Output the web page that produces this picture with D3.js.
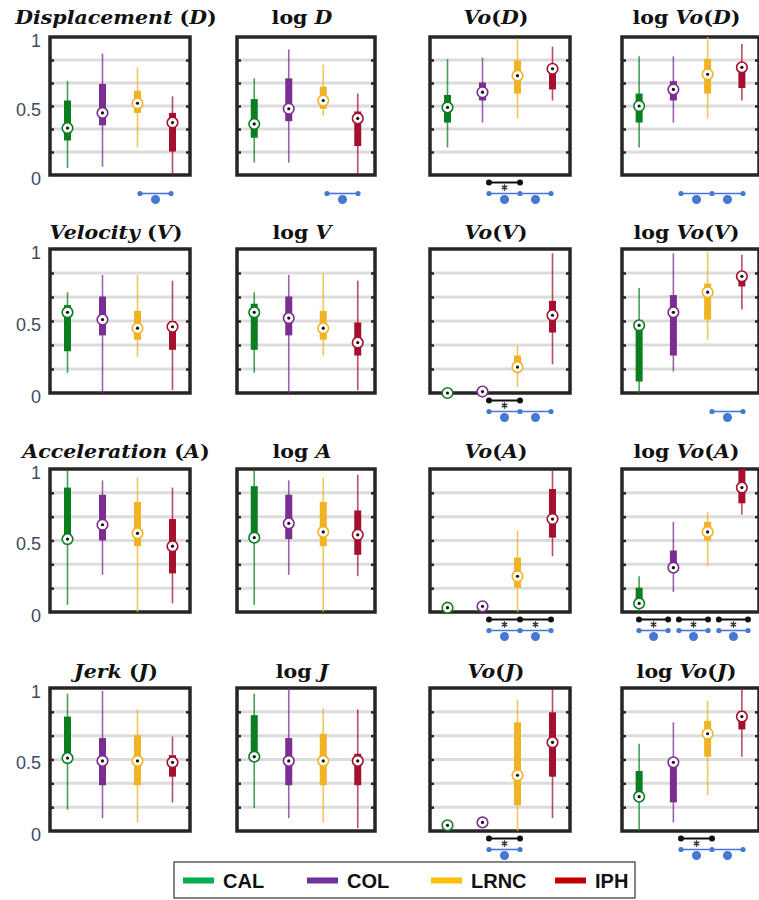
<!DOCTYPE html>
<html>
<head>
<meta charset="utf-8">
<script src="https://cdn.jsdelivr.net/npm/d3@7"></script>
<style>
  body { margin: 0; background: #fff; }
  svg { display: block; }
</style>
</head>
<body>
<svg id="chart" width="759" height="900"></svg>
<script>
// ---- data -------------------------------------------------------------
// groups, in plotting order
const categories = ["CAL", "COL", "LRNC", "IPH"];

// each entry: [lower whisker, Q1, median, Q3, upper whisker] per group
const D       = [[0.05,0.25,0.34,0.54,0.68],[0.06,0.36,0.45,0.66,0.88],[0.20,0.45,0.52,0.61,0.78],[0.00,0.17,0.38,0.45,0.57]];
const logD    = [[0.09,0.27,0.37,0.55,0.70],[0.09,0.39,0.48,0.70,0.91],[0.43,0.48,0.54,0.64,0.80],[0.01,0.21,0.41,0.46,0.59]];
const VoD     = [[0.20,0.38,0.49,0.58,0.84],[0.38,0.54,0.60,0.67,0.85],[0.41,0.59,0.72,0.83,0.99],[0.54,0.62,0.77,0.79,0.93]];
const logVoD  = [[0.20,0.38,0.50,0.59,0.86],[0.38,0.54,0.62,0.68,0.86],[0.41,0.59,0.73,0.84,1.00],[0.54,0.63,0.78,0.81,0.95]];

const V       = [[0.14,0.29,0.56,0.61,0.70],[0.00,0.40,0.51,0.67,0.82],[0.25,0.37,0.45,0.57,0.82],[0.02,0.30,0.46,0.50,0.78]];
const logV    = [[0.14,0.30,0.56,0.62,0.70],[0.00,0.40,0.52,0.67,0.82],[0.26,0.37,0.45,0.57,0.83],[0.02,0.26,0.35,0.49,0.78]];
const VoV     = [[0.00,0.00,0.00,0.00,0.00],[0.01,0.01,0.01,0.01,0.01],[0.04,0.17,0.18,0.26,0.33],[0.20,0.42,0.54,0.64,0.97]];
const logVoV  = [[0.00,0.08,0.47,0.47,0.73],[0.15,0.26,0.56,0.68,0.97],[0.37,0.51,0.70,0.76,0.98],[0.58,0.74,0.81,0.83,0.96]];

const A       = [[0.05,0.51,0.51,0.87,0.99],[0.26,0.50,0.61,0.82,0.92],[0.00,0.46,0.55,0.77,0.94],[0.06,0.27,0.46,0.65,0.87]];
const logA    = [[0.05,0.52,0.52,0.88,0.99],[0.26,0.51,0.62,0.82,0.92],[0.00,0.46,0.56,0.77,0.94],[0.25,0.40,0.54,0.71,0.96]];
const VoA     = [[0.03,0.03,0.03,0.03,0.03],[0.04,0.04,0.04,0.04,0.04],[0.00,0.17,0.25,0.38,0.57],[0.39,0.52,0.65,0.86,0.99]];
const logVoA  = [[0.00,0.05,0.06,0.17,0.25],[0.14,0.30,0.31,0.43,0.63],[0.32,0.50,0.56,0.63,0.70],[0.68,0.76,0.87,1.00,1.00]];

const J       = [[0.15,0.51,0.51,0.80,0.96],[0.09,0.32,0.49,0.65,0.98],[0.06,0.32,0.49,0.67,0.85],[0.20,0.38,0.48,0.53,0.66]];
const logJ    = [[0.16,0.52,0.52,0.81,0.96],[0.09,0.32,0.49,0.65,1.00],[0.06,0.32,0.49,0.68,0.86],[0.02,0.32,0.49,0.54,0.85]];
const VoJ     = [[0.04,0.04,0.04,0.04,0.04],[0.06,0.06,0.06,0.06,0.06],[0.00,0.18,0.39,0.76,0.92],[0.09,0.38,0.62,0.83,0.99]];
const logVoJ  = [[0.00,0.24,0.24,0.42,0.61],[0.06,0.20,0.48,0.48,0.76],[0.25,0.52,0.68,0.77,0.91],[0.52,0.71,0.80,0.84,1.00]];

// feature rows and the symbol used in the panel titles
const featureNames   = ["Displacement", "Velocity", "Acceleration", "Jerk"];
const featureSymbols = ["D", "V", "A", "J"];

// significance brackets: lists of connected group numbers (1-based)
// black = significant pair (with asterisk), blue = second test
const sigBlack = [
  [[], [], [[2,3]], []],
  [[], [], [[2,3]], []],
  [[], [], [[2,3,4]], [[1,2],[2,3],[3,4]]],
  [[], [], [[2,3]], [[2,3]]]
];
const sigBlue = [
  [[[3,4]], [[3,4]], [[2,3,4]], [[2,3,4]]],
  [[], [], [[2,3,4]], [[3,4]]],
  [[], [], [[2,3,4]], [[1,2],[2,3],[3,4]]],
  [[], [], [[2,3]], [[2,3,4]]]
];

const yTickLabels = [0, 0.5, 1];
const gridValues  = [1/6, 2/6, 3/6, 4/6, 5/6];

// ---- styling / layout -------------------------------------------------
const boxColors    = ["#0b7f20", "#7b2d92", "#f0b323", "#a5102e"];
const legendColors = ["#00b050", "#7030a0", "#ffc000", "#c00000"];
const blue = "#4677d1";

const colX = [50, 237, 430, 622];
const colW = [140, 138, 140, 137];
const rowTop = [37, 249, 469, 688];
const rowBottom = [175, 393, 612, 831];
const titleBase = [24, 239, 458, 678];

const panelData = [
  [D, logD, VoD, logVoD],
  [V, logV, VoV, logVoV],
  [A, logA, VoA, logVoA],
  [J, logJ, VoJ, logVoJ]
];

const svg = d3.select("#chart");

function titleSegments(row, col) {
  const name = featureNames[row], s = featureSymbols[row];
  if (col === 0) return [{t: name, it: true}, {t: " ("}, {t: s, it: true}, {t: ")"}];
  if (col === 1) return [{t: "log"}, {t: " "}, {t: s, it: true}];
  if (col === 2) return [{t: "Vo", it: true}, {t: "("}, {t: s, it: true}, {t: ")"}];
  return [{t: "log"}, {t: " "}, {t: "Vo", it: true}, {t: "("}, {t: s, it: true}, {t: ")"}];
}

function markerPoints(groups, px) {
  // connected groups follow a linear layout; several separate groups are spread in bands
  if (groups.length > 1) {
    const band = d3.scaleBand().domain(d3.range(groups.length))
      .range([px + 17, px + 126]).paddingInner(0.27);
    return groups.map((grp, k) => {
      const lin = d3.scaleLinear().domain([grp[0], grp[grp.length - 1]])
        .range([band(k), band(k) + band.bandwidth()]);
      return grp.map(lin);
    });
  }
  const mx = d3.scaleLinear().domain([1, 4]).range([px + 28, px + 121]);
  return groups.map(grp => grp.map(mx));
}

panelData.forEach((rowData, row) => {
  rowData.forEach((stats, col) => {
    const px = colX[col], w = colW[col];
    const top = rowTop[row], bot = rowBottom[row];
    const x = d3.scaleLinear().domain([0.5, 4.5]).range([px, px + w]);
    const y = d3.scaleLinear().domain([0, 1]).range([bot, top]);
    const g = svg.append("g");

    // light horizontal grid
    g.selectAll("line.grid").data(gridValues).join("line")
      .attr("x1", px + 2).attr("x2", px + w - 2)
      .attr("y1", d => y(d)).attr("y2", d => y(d))
      .attr("stroke", "#dcdcdc").attr("stroke-width", 3);

    // frame
    g.append("rect")
      .attr("x", px).attr("y", top).attr("width", w).attr("height", bot - top)
      .attr("fill", "none").attr("stroke", "#262626").attr("stroke-width", 3.5);

    // inner tick marks on both sides
    const ticksL = d3.axisLeft(y).tickValues(gridValues).tickSizeInner(-4).tickSizeOuter(0).tickFormat("");
    const ticksR = d3.axisRight(y).tickValues(gridValues).tickSizeInner(-4).tickSizeOuter(0).tickFormat("");
    g.append("g").attr("transform", `translate(${px},0)`).call(ticksL)
      .call(a => a.select(".domain").remove())
      .selectAll("line").attr("stroke", "#262626").attr("stroke-width", 2.5);
    g.append("g").attr("transform", `translate(${px + w},0)`).call(ticksR)
      .call(a => a.select(".domain").remove())
      .selectAll("line").attr("stroke", "#262626").attr("stroke-width", 2.5);

    // y labels on the first column
    if (col === 0) {
      const ax = d3.axisLeft(y).tickValues(yTickLabels).tickSize(0).tickPadding(9)
        .tickFormat(d3.format("~g"));
      g.append("g").attr("transform", `translate(${px},0)`).call(ax)
        .call(a => a.select(".domain").remove())
        .selectAll("text")
        .attr("dy", "0.5em")
        .attr("fill", "#3e4a63")
        .style("font-family", "'Liberation Sans', Arial, sans-serif")
        .style("font-size", "18px");
    }

    // title
    const tg = g.append("g")
      .attr("transform", `translate(${px + w / 2 - 4},${titleBase[row]}) scale(1.14,1)`);
    const tt = tg.append("text").attr("text-anchor", "middle")
      .style("font-family", "'DejaVu Serif', serif")
      .style("font-weight", "bold").style("font-size", "18px").attr("fill", "#111");
    tt.selectAll("tspan").data(titleSegments(row, col)).join("tspan")
      .style("font-style", d => d.it ? "italic" : "normal")
      .text(d => d.t);

    // box plots
    const items = stats.map((s, i) => ({i, s}));
    const marks = g.selectAll("g.mark").data(items).join("g");
    marks.append("line")
      .attr("x1", d => x(d.i + 1)).attr("x2", d => x(d.i + 1))
      .attr("y1", d => y(d.s[0])).attr("y2", d => y(d.s[4]))
      .attr("stroke", d => boxColors[d.i]).attr("stroke-width", 1.6).attr("stroke-opacity", 0.75);
    marks.append("rect")
      .attr("x", d => x(d.i + 1) - 3.5).attr("width", 7)
      .attr("y", d => y(d.s[3])).attr("height", d => y(d.s[1]) - y(d.s[3]))
      .attr("fill", d => boxColors[d.i]);
    marks.append("circle")
      .attr("cx", d => x(d.i + 1)).attr("cy", d => y(d.s[2])).attr("r", 5.3)
      .attr("fill", "#fff").attr("stroke", d => boxColors[d.i]).attr("stroke-width", 1.6);
    marks.append("circle")
      .attr("cx", d => x(d.i + 1)).attr("cy", d => y(d.s[2])).attr("r", 1.6)
      .attr("fill", "#111");

    // significance markers below the panel
    const blackPts = markerPoints(sigBlack[row][col], px);
    blackPts.forEach(pts => {
      const yy = bot + 7.5;
      g.append("line").attr("x1", pts[0]).attr("x2", pts[pts.length - 1])
        .attr("y1", yy).attr("y2", yy).attr("stroke", "#111").attr("stroke-width", 2);
      pts.forEach(p => g.append("circle").attr("cx", p).attr("cy", yy).attr("r", 3).attr("fill", "#111"));
      d3.pairs(pts).forEach(([a, b]) => {
        g.append("path").attr("d", d3.symbol(d3.symbolAsterisk, 28)())
          .attr("transform", `translate(${(a + b) / 2},${bot + 12.5})`)
          .attr("fill", "none").attr("stroke", "#333").attr("stroke-width", 1.3);
      });
    });
    const bluePts = markerPoints(sigBlue[row][col], px);
    bluePts.forEach(pts => {
      const yy = bot + 18.5;
      g.append("line").attr("x1", pts[0]).attr("x2", pts[pts.length - 1])
        .attr("y1", yy).attr("y2", yy).attr("stroke", blue).attr("stroke-width", 1.6);
      pts.forEach(p => g.append("circle").attr("cx", p).attr("cy", yy).attr("r", 2.6).attr("fill", blue));
      d3.pairs(pts).forEach(([a, b]) => {
        g.append("circle").attr("cx", (a + b) / 2).attr("cy", bot + 24.5).attr("r", 4.5).attr("fill", blue);
      });
    });
  });
});

// legend
const lg = svg.append("g");
lg.append("rect").attr("x", 174).attr("y", 862).attr("width", 461).attr("height", 36)
  .attr("fill", "#fff").attr("stroke", "#333").attr("stroke-width", 1.2);
const litem = lg.selectAll("g.item").data(categories).join("g")
  .attr("transform", (d, i) => `translate(${183 + i * 124},880.5)`);
litem.append("line").attr("x1", 0).attr("x2", 31).attr("y1", 0).attr("y2", 0)
  .attr("stroke", (d, i) => legendColors[i]).attr("stroke-width", 6);
litem.append("text").attr("x", 40).attr("y", 7.5)
  .style("font-family", "'Liberation Sans', Arial, sans-serif")
  .style("font-weight", "bold").style("font-size", "20px").attr("fill", "#111")
  .text(d => d);
</script>
</body>
</html>
